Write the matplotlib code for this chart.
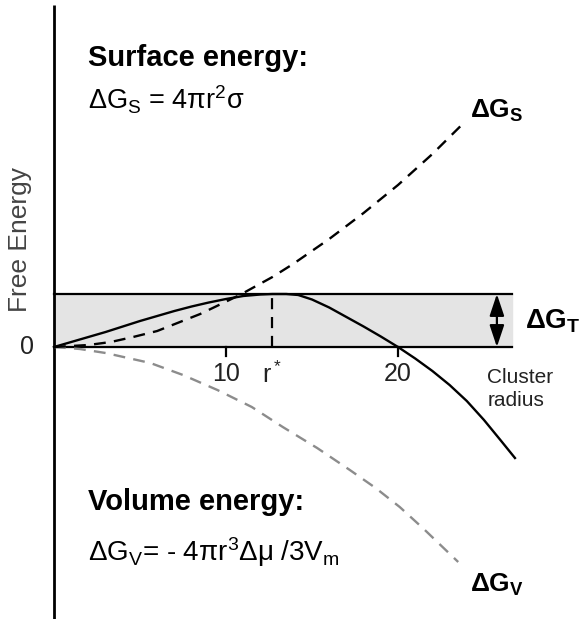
import matplotlib
matplotlib.use("Agg")
import matplotlib.pyplot as plt

plt.rcParams['font.family'] = ['Liberation Sans', 'DejaVu Sans']
plt.rcParams['mathtext.fontset'] = 'custom'
plt.rcParams['mathtext.rm'] = 'Liberation Sans'
plt.rcParams['mathtext.it'] = 'Liberation Sans:italic'
plt.rcParams['mathtext.bf'] = 'Liberation Sans:bold'

# ---- data (radius, free energy in arbitrary units) ----
r_total = [0, 1, 2, 3, 4, 5, 6, 7, 8, 9, 10, 11, 12, 12.7, 13.5, 14.2, 15, 16, 17, 18, 19, 20,
           21, 22, 23, 24, 25, 26, 26.8]
g_total = [0, 5, 10, 15, 20.5, 26, 31, 36, 40.5, 44.5, 48, 51, 52.5, 53, 53, 52, 47.5, 39.5, 30,
           20.5, 10.5, 0, -11.5, -24, -38, -54, -73, -94, -111]

r_surface = [0, 2, 3.3, 4.6, 6, 8.5, 10.8, 12.7, 13.9, 16, 18, 20, 22, 23.7]
g_surface = [0, 2, 5, 10, 16, 33, 52, 70, 83, 108, 134, 162, 193, 222]

r_volume = [0, 1.5, 3, 5.6, 7.5, 9.5, 11.5, 13.3, 15.3, 17.2, 18.7, 20.1, 21.5, 23.5]
g_volume = [0, -2, -6, -16, -28, -43, -60, -80, -101, -123, -141, -160, -182, -215]

r_star = 12.7
g_barrier = 53
band_end = 26.6
tick_values = [10, 20]
tick_labels = ["10", "20"]

fig = plt.figure(figsize=(5.82, 6.19), dpi=100)
ax = fig.add_axes([0, 0, 1, 1])
ax.set_xlim(-54 / 17.2, (582 - 54) / 17.2)
ax.set_ylim(-272, 347)
ax.axis('off')

# shaded barrier band
ax.fill_between([0, band_end], 0, g_barrier, color='#e4e4e4', zorder=0)
ax.plot([0, band_end], [g_barrier, g_barrier], color='black', lw=1.6, zorder=2)
ax.plot([0, band_end], [0, 0], color='black', lw=1.6, zorder=2)

# vertical axis
ax.plot([0, 0], [342, -272], color='black', lw=2.0, zorder=3, solid_capstyle='butt')

# ticks
for tv, tl in zip(tick_values, tick_labels):
    ax.plot([tv, tv], [0, -9], color='black', lw=1.6)
    ax.text(tv, -15, tl, ha='center', va='top', fontsize=18, color='#222222')
ax.text(r_star, -15, r"r$^*$", ha='center', va='top', fontsize=18, color='#222222')
ax.text(-1.57, 0, "0", ha='center', va='center', fontsize=18, color='#222222')

# r* dashed line
ax.plot([r_star, r_star], [0, g_barrier], color='black', lw=1.6, dashes=(5, 3.5))

# curves
ax.plot(r_volume, g_volume, color='#8c8c8c', lw=1.7, dashes=(5, 3.5), zorder=4)
ax.plot(r_surface, g_surface, color='black', lw=1.7, dashes=(5, 3.5), zorder=4)
ax.plot(r_total, g_total, color='black', lw=1.7, zorder=5)

# double arrow
ax.annotate('', xy=(25.75, 0), xytext=(25.75, g_barrier),
            arrowprops=dict(arrowstyle='<|-|>,head_length=0.6,head_width=0.2',
                            color='black', lw=1.6,
                            mutation_scale=22, shrinkA=0, shrinkB=0))

# labels
ax.text(-2.0, 107, "Free Energy", rotation=90, ha='center', va='center',
        fontsize=19, color='#444444')
ax.text(2.0, 289, "Surface energy:", fontsize=21, fontweight='bold', ha='left', va='center')
ax.text(2.0, 247, r"ΔG$_\mathrm{S}$ = 4πr$^2$σ", fontsize=19.5, ha='left', va='center')
ax.text(24.2, 236, r"ΔG$_\mathbf{S}$", fontsize=19, fontweight='bold', ha='left', va='center')
ax.text(27.4, 26, r"ΔG$_\mathbf{T}$", fontsize=20, fontweight='bold', ha='left', va='center')
ax.text(25.2, -42, "Cluster\nradius", fontsize=15, ha='left', va='center',
        linespacing=1.25, color='#222222')
ax.text(2.0, -155, "Volume energy:", fontsize=21, fontweight='bold', ha='left', va='center')
ax.text(2.0, -205, r"ΔG$_\mathrm{V}$= - 4πr$^3$Δμ /3V$_\mathrm{m}$", fontsize=20,
        ha='left', va='center')
ax.text(24.2, -238, r"ΔG$_\mathbf{V}$", fontsize=19, fontweight='bold', ha='left', va='center')

fig.savefig("out.png", dpi=100, facecolor='white')
